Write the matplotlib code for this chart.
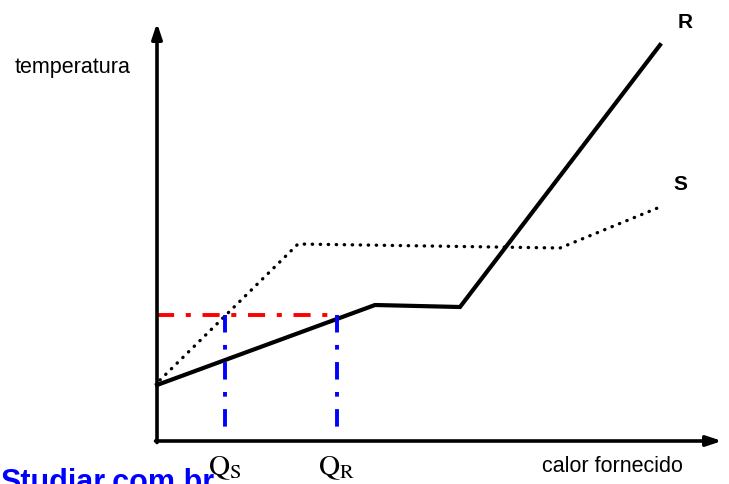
import numpy as np
import matplotlib.pyplot as plt

# curve vertices (calor fornecido, temperatura), arbitrary units
r_calor = [0, 218, 303, 503]
r_temp = [56, 136, 134, 396]
s_calor = [3, 141, 403, 503]
s_temp = [61, 197, 193, 234]

# operating point
t_op = 126
q_s = 68
q_r = 180

fig = plt.figure(figsize=(7.29, 4.84), dpi=100)
ax = fig.add_axes([0, 0, 1, 1])
ax.set_xlim(-157, 572)
ax.set_ylim(-43, 441)
ax.axis('off')

# axes with arrows
ax.annotate('', xy=(565, 0), xytext=(-1.5, 0),
            arrowprops=dict(arrowstyle='-|>,head_length=0.9,head_width=0.3', lw=2.6, color='black', shrinkA=0, shrinkB=0))
ax.annotate('', xy=(0, 418), xytext=(0, -1.5),
            arrowprops=dict(arrowstyle='-|>,head_length=0.9,head_width=0.3', lw=2.6, color='black', shrinkA=0, shrinkB=0))

ax.plot(r_calor, r_temp, color='black', lw=3.0, solid_joinstyle='miter')
ax.plot(s_calor, s_temp, color='black', lw=2.4, linestyle=(0, (0.1, 2.3)), dash_capstyle='round')

ax.plot([0, q_r], [t_op, t_op], color='red', lw=2.8, linestyle=(0, (4.4, 3, 1.3, 3)))
for q in [q_s, q_r]:
    ax.plot([q, q], [t_op, 8], color='blue', lw=2.8, linestyle=(0, (4.5, 3.2, 1.2, 3.2)))

ax.text(-142, 373, 'temperatura', fontsize=15.5, family='Liberation Sans', va='center', ha='left')
ax.text(455, -26, 'calor fornecido', fontsize=15.5, family='Liberation Sans', va='center', ha='center')
ax.text(528, 419, 'R', fontsize=15, family='Liberation Sans', weight='bold', va='center', ha='center')
ax.text(523, 256, 'S', fontsize=15, family='Liberation Sans', weight='bold', va='center', ha='center')

ax.text(q_s, -27, r'$\mathrm{Q}_{\mathrm{S}}$', fontsize=21, family='Liberation Serif', va='center', ha='center',
        math_fontfamily='stix')
ax.text(q_r, -27, r'$\mathrm{Q}_{\mathrm{R}}$', fontsize=21, family='Liberation Serif', va='center', ha='center',
        math_fontfamily='stix')

# watermark, cut at the bottom edge
ax.text(-157, -27, 'Studiar.com.br', fontsize=22, family='Liberation Sans', weight='bold', color='blue',
        va='top', ha='left', zorder=0)

plt.savefig('out.png', dpi=100)
